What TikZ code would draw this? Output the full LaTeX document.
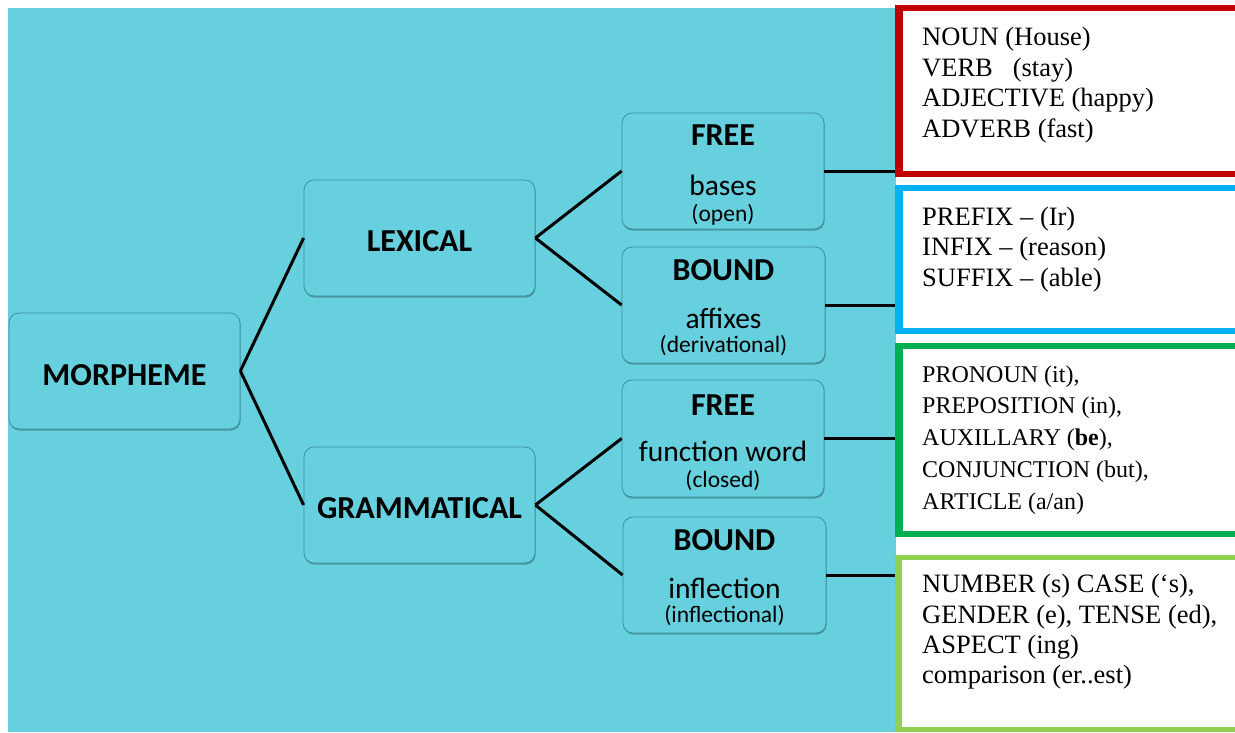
\documentclass[tikz,border=0pt]{standalone}
\usepackage{fontspec}
\setmainfont{Liberation Serif}
\newfontfamily\calibrifont{Carlito}
\usetikzlibrary{shadows}
\definecolor{teal0}{RGB}{103,208,222}
\definecolor{tealdark}{RGB}{60,145,160}
\definecolor{boxred}{RGB}{192,0,0}
\definecolor{boxblue}{RGB}{0,176,240}
\definecolor{boxgreen}{RGB}{0,176,80}
\definecolor{boxlime}{RGB}{146,208,80}
\begin{document}
\begin{tikzpicture}[x=1pt,y=-1pt,
  tbox/.style={draw=tealdark, line width=0.8pt, fill=teal0, rounded corners=10pt, inner sep=0pt,
    drop shadow={shadow xshift=0.6pt, shadow yshift=-1.6pt, opacity=0.28, fill=black}},
  lvltxt/.style={font=\calibrifont\bfseries\fontsize{32}{38}\selectfont, anchor=base, inner sep=0pt},
  hdtxt/.style={font=\calibrifont\bfseries\fontsize{32}{38}\selectfont, anchor=base, inner sep=0pt},
  subtxt/.style={font=\calibrifont\fontsize{29.5}{34}\selectfont, anchor=base, inner sep=0pt},
  smalltxt/.style={font=\calibrifont\fontsize{23.5}{28}\selectfont, anchor=base, inner sep=0pt},
  conn/.style={line width=3pt, black},
  exline/.style={font=\fontsize{26.5}{30}\selectfont, anchor=base west, inner sep=0pt},
  exsmall/.style={font=\fontsize{24}{30}\selectfont, anchor=base west, inner sep=0pt},
  exframe/.style={line width=5.5pt, fill=white, inner sep=0pt}
]
\useasboundingbox (0,0) rectangle (1235,732);
\clip (0,0) rectangle (1235,732);
\fill[white] (0,0) rectangle (1235,732);
\fill[teal0] (8,8) rectangle (896,732);

% tree boxes
\node[tbox, minimum width=231pt, minimum height=116pt] (morph) at (124.5,371) {};
\node[tbox, minimum width=231pt, minimum height=116pt] (lex) at (419.5,238) {};
\node[tbox, minimum width=231pt, minimum height=116pt] (gram) at (419.5,505) {};
\node[tbox, minimum width=202pt, minimum height=116pt] (freeA) at (723,171) {};
\node[tbox, minimum width=203pt, minimum height=116pt] (boundA) at (723.5,305) {};
\node[tbox, minimum width=202pt, minimum height=117pt] (freeB) at (723,438.5) {};
\node[tbox, minimum width=203pt, minimum height=116pt] (boundB) at (724.5,575) {};

% level labels
\node[lvltxt] (morphT) at (124.5,385) {MORPHEME};
\node[lvltxt] (lexT) at (419.5,251) {LEXICAL};
\node[lvltxt] (gramT) at (419.5,518) {GRAMMATICAL};

% texts in the small boxes
\node[hdtxt] (freeAh) at (723,145) {FREE};
\node[subtxt] (freeAs) at (723,195) {bases};
\node[smalltxt] (freeAt) at (723,221) {(open)};
\node[hdtxt] (boundAh) at (723.5,280) {BOUND};
\node[subtxt] (boundAs) at (723.5,328) {affixes};
\node[smalltxt] (boundAt) at (723.5,352) {(derivational)};
\node[hdtxt] (freeBh) at (723,415) {FREE};
\node[subtxt] (freeBs) at (723,461) {function word};
\node[smalltxt] (freeBt) at (723,487) {(closed)};
\node[hdtxt] (boundBh) at (724.5,550) {BOUND};
\node[subtxt] (boundBs) at (724.5,598) {inflection};
\node[smalltxt] (boundBt) at (724.5,622) {(inflectional)};

% example frames
\node[exframe, draw=boxred, minimum width=350pt, minimum height=166pt] (frRed) at (1075,91) {};
\node[exframe, draw=boxblue, minimum width=350pt, minimum height=143pt] (frBlue) at (1075,259.5) {};
\node[exframe, draw=boxgreen, minimum width=350pt, minimum height=188pt] (frGreen) at (1075,440) {};
\node[exframe, draw=boxlime, line width=5pt, minimum width=350pt, minimum height=172pt] (frLime) at (1074.5,643) {};

% connectors
\draw[conn] (morph.east) -- (lex.west);
\draw[conn] (morph.east) -- (gram.west);
\draw[conn] (lex.east) -- (freeA.west);
\draw[conn] (lex.east) -- (boundA.west);
\draw[conn] (gram.east) -- (freeB.west);
\draw[conn] (gram.east) -- (boundB.west);
\draw[conn] (freeA.east) -- (freeA.east -| frRed.west);
\draw[conn] (boundA.east) -- (boundA.east -| frBlue.west);
\draw[conn] (freeB.east) -- (freeB.east -| frGreen.west);
\draw[conn] (boundB.east) -- (boundB.east -| frLime.west);
% redraw frame left borders over line ends
\draw[boxred, line width=5.5pt] (frRed.north west) -- (frRed.south west);
\draw[boxblue, line width=5.5pt] (frBlue.north west) -- (frBlue.south west);
\draw[boxgreen, line width=5.5pt] (frGreen.north west) -- (frGreen.south west);
\draw[boxlime, line width=5pt] (frLime.north west) -- (frLime.south west);

% example texts
\node[exline] (r1) at (922,45) {NOUN (House)};
\node[exline] (r2) at (922,76) {VERB\ \ \ (stay)};
\node[exline] (r3) at (922,106) {ADJECTIVE (happy)};
\node[exline] (r4) at (922,137) {ADVERB (fast)};
\node[exline] (b1) at (922,225) {PREFIX – (Ir)};
\node[exline] (b2) at (922,255) {INFIX – (reason)};
\node[exline] (b3) at (922,286) {SUFFIX – (able)};
\node[exsmall] (g1) at (922,382) {PRONOUN (it),};
\node[exsmall] (g2) at (922,413.5) {PREPOSITION (in),};
\node[exsmall] (g3) at (922,445) {AUXILLARY (\textbf{be}),};
\node[exsmall] (g4) at (922,477) {CONJUNCTION (but),};
\node[exsmall] (g5) at (922,509) {ARTICLE (a/an)};
\node[exline] (l1) at (922,592) {NUMBER (s) CASE (‘s),};
\node[exline] (l2) at (922,623) {GENDER (e), TENSE (ed),};
\node[exline] (l3) at (922,653) {ASPECT (ing)};
\node[exline] (l4) at (922,683) {comparison (er..est)};
\end{tikzpicture}
\end{document}
